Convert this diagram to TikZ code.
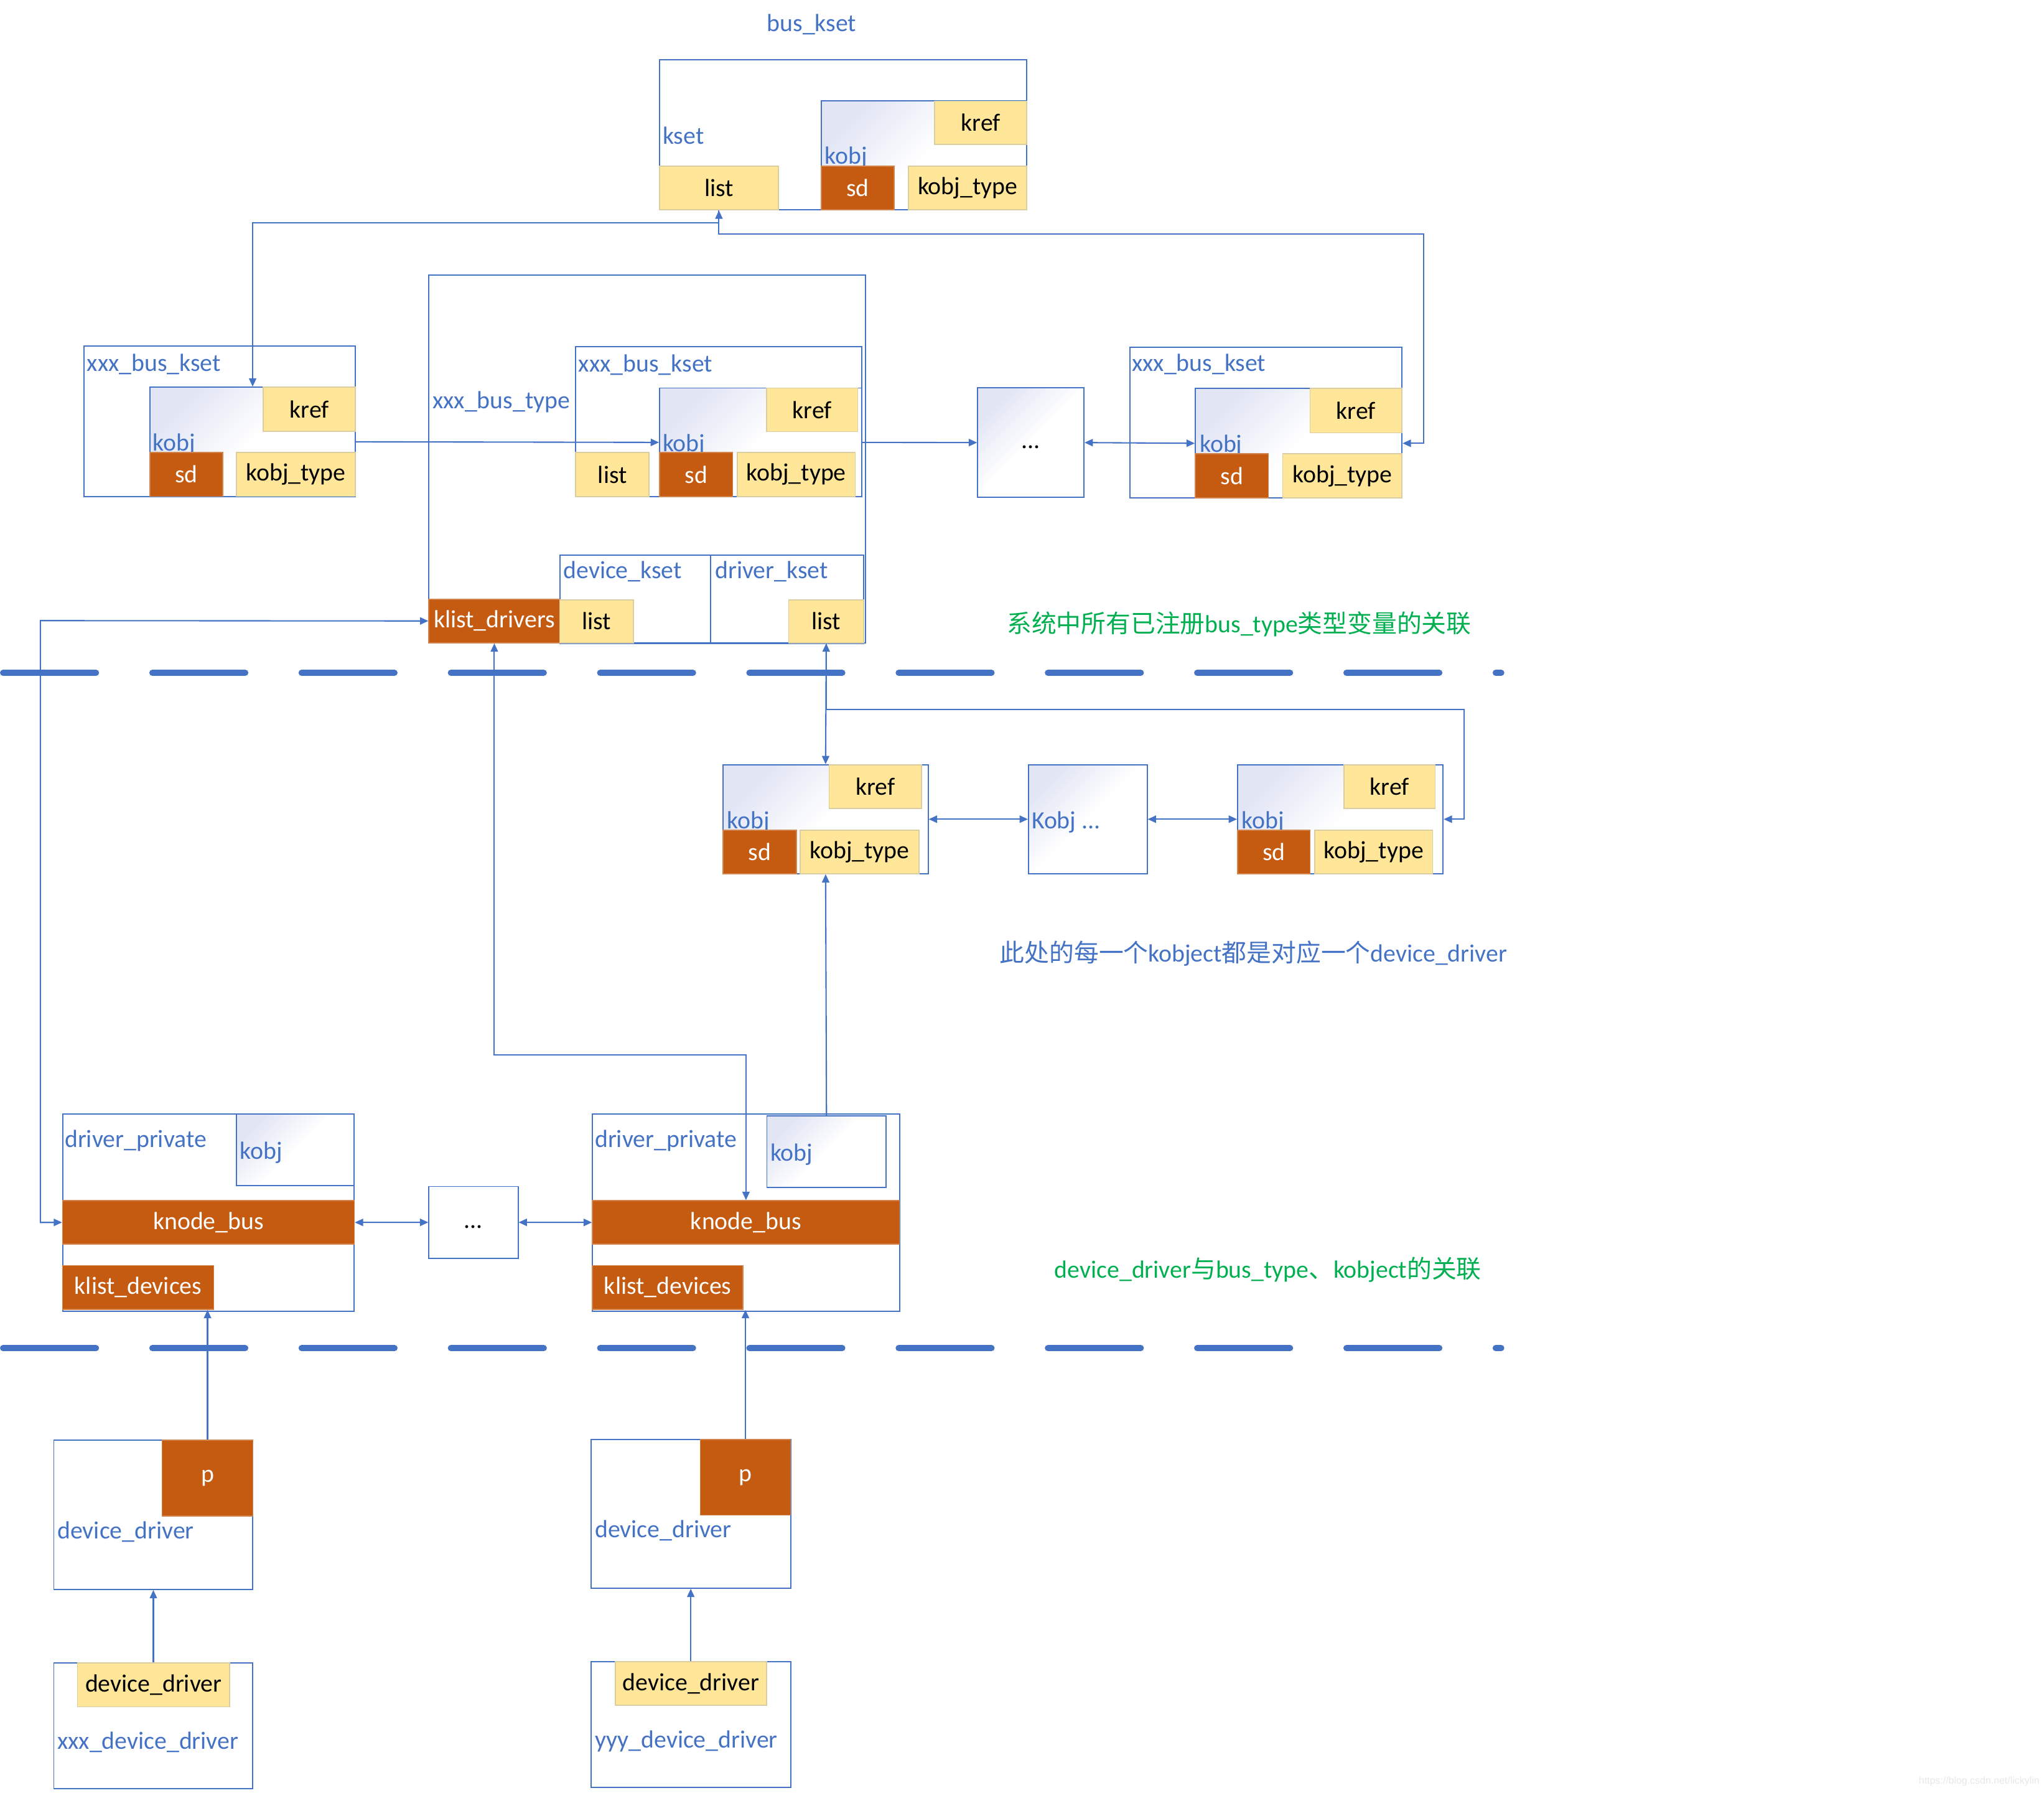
\documentclass[tikz,border=0pt]{standalone}
\usepackage{fontspec}
\setmainfont{Carlito}
\newfontfamily\cjk{Noto Sans CJK SC}
\newfontfamily\wmfont{Liberation Sans}
\usetikzlibrary{arrows.meta}

\definecolor{ofblue}{HTML}{4472C4}
\definecolor{oforange}{HTML}{C55A11}
\definecolor{ofyellow}{HTML}{FFE699}
\definecolor{ofgreen}{HTML}{00B050}
\definecolor{lav}{HTML}{E1E5F4}

\tikzset{
  every node/.style={font=\fontsize{9.5}{11}\selectfont},
  frame/.style={draw=ofblue, line width=0.45pt, inner sep=0pt},
  kobjbox/.style={frame, top color=lav, bottom color=white, middle color=white, shading angle=45},
  yel/.style={fill=ofyellow, draw=ofyellow!80!black!70, line width=0.4pt, inner sep=0pt, text=black},
  org/.style={fill=oforange, draw=oforange!75!white, line width=0.4pt, inner sep=0pt, text=white},
  lbl/.style={anchor=base west, inner sep=0pt, text=ofblue, yshift=-0.8pt},
  conn/.style={draw=ofblue, line width=0.5pt},
  sep/.style={draw=ofblue, line width=2.4pt, line cap=round, dash pattern=on 35.6pt off 21.65pt},
  >={Triangle[length=3.2pt,width=2.8pt]}
}

% a rectangular cell given by its corners: style, name, x1, y1, x2, y2, text
% (one unit is 0.5pt in both directions)
\newcommand\cell[7]{%
  \node[#1, anchor=center, minimum width={(#5-#3)*0.5pt}, minimum height={(#6-#4)*0.5pt}]
    (#2) at ({(#3+#5)/2},{(#4+#6)/2}) {#7};}

\begin{document}
\begin{tikzpicture}[x=0.5pt, y=-0.5pt]
\fill[white] (0,0) rectangle (1568,1375);
\useasboundingbox (0,0) rectangle (1568,1375);

% ---------- bus_kset ----------
\node[lbl] (tbus) at (588,22.3) {bus\_kset};
\cell{frame}{kset0}{506}{46}{787.6}{161}{}
\node[lbl] (tkset) at (508,109) {kset};
\cell{yel}{list0}{506}{127.4}{597}{161}{list}
\cell{kobjbox}{kobj0}{630}{77.5}{787.6}{161}{}
\node[lbl] (tkobj0) at (632.5,124) {kobj};
\cell{yel}{kref0}{717}{77.5}{787.6}{110.7}{kref}
\cell{org}{sd0}{630}{127.4}{686}{161}{sd}
\cell{yel}{kt0}{697}{127.4}{787.6}{161}{kobj\_type}

% ---------- left xxx_bus_kset ----------
\cell{frame}{ksetA}{64.4}{265.5}{272.6}{380.7}{}
\node[lbl] (tksetA) at (66.4,283) {xxx\_bus\_kset};
\cell{kobjbox}{kobjA}{115}{297}{272.6}{380.7}{}
\node[lbl] (tkobjA) at (117,344) {kobj};
\cell{yel}{krefA}{202}{297}{272.6}{330.8}{kref}
\cell{org}{sdA}{115}{347}{171}{380.7}{sd}
\cell{yel}{ktA}{181.4}{347}{272.6}{380.7}{kobj\_type}

% ---------- xxx_bus_type ----------
\cell{frame}{bustype}{329}{211}{664}{493}{}
\node[lbl] (tbustype) at (331.5,311.7) {xxx\_bus\_type};
\cell{frame}{ksetB}{441.6}{266}{661}{381}{}
\node[lbl] (tksetB) at (443.5,283.6) {xxx\_bus\_kset};
\cell{yel}{listB}{441.6}{347}{498}{381}{list}
\cell{kobjbox}{kobjB}{506}{297.6}{661}{381}{}
\node[lbl] (tkobjB) at (508,344.6) {kobj};
\cell{yel}{krefB}{588}{297.6}{658}{331}{kref}
\cell{org}{sdB}{506}{347}{562}{381}{sd}
\cell{yel}{ktB}{565.7}{347}{656}{381}{kobj\_type}
\cell{frame}{devkset}{429.4}{425.6}{545}{493.6}{}
\node[lbl] (tdevkset) at (431.8,442.3) {device\_kset};
\cell{frame}{drvkset}{545}{425.6}{662.6}{493.6}{}
\node[lbl] (tdrvkset) at (548.2,442.3) {driver\_kset};
\cell{org}{kld}{329}{459.5}{429.4}{493}{klist\_drivers}
\cell{yel}{devlist}{429.4}{460}{486}{493}{list}
\cell{yel}{drvlist}{605}{460}{662.6}{493}{list}

% ---------- further bus ksets ----------
\cell{kobjbox}{dots1}{750}{297.5}{831.5}{381.4}{\strut...}
\cell{frame}{ksetC}{867}{266.5}{1075.5}{382}{}
\node[lbl] (tksetC) at (868,283) {xxx\_bus\_kset};
\cell{kobjbox}{kobjC}{917}{298}{1075.5}{382}{}
\node[lbl] (tkobjC) at (920,345) {kobj};
\cell{yel}{krefC}{1005}{298}{1075.5}{332}{kref}
\cell{org}{sdC}{917}{348}{973}{382}{sd}
\cell{yel}{ktC}{984}{348}{1075.5}{382}{kobj\_type}

\node[lbl, text=ofgreen] (note1) at (772,483.6) {{\cjk 系统中所有已注册}bus\_type{\cjk 类型变量的关联}};

% ---------- separators ----------
\coordinate (s1a) at (2.4,516);
\coordinate (s1b) at (1151.6,516);
\draw[sep] (s1a) -- (s1b);
\coordinate (s2a) at (2.4,1034);
\coordinate (s2b) at (1151.6,1034);
\draw[sep] (s2a) -- (s2b);

% ---------- driver kobjects ----------
\cell{kobjbox}{kobjD}{554.7}{586.6}{712}{670}{}
\node[lbl] (tkobjD) at (557.5,634) {kobj};
\cell{yel}{krefD}{636}{586.6}{707}{620}{kref}
\cell{org}{sdD}{554.7}{636.8}{611}{670}{sd}
\cell{yel}{ktD}{613.8}{636.8}{705}{670}{kobj\_type}
\cell{kobjbox}{kdots}{789}{586.6}{880}{670}{}
\node[lbl] (tkdots) at (791,634) {Kobj ...};
\cell{kobjbox}{kobjF}{949.4}{586.6}{1107}{670}{}
\node[lbl] (tkobjF) at (952,634) {kobj};
\cell{yel}{krefF}{1031}{586.6}{1101}{620}{kref}
\cell{org}{sdF}{949.4}{636.8}{1005}{670}{sd}
\cell{yel}{ktF}{1008.6}{636.8}{1099}{670}{kobj\_type}

\node[lbl] (note2) at (766.6,736) {{\cjk 此处的每一个}kobject{\cjk 都是对应一个}device\_driver};

% ---------- driver_private ----------
\cell{frame}{dp1}{48}{854.5}{271.8}{1005.7}{}
\node[lbl] (tdp1) at (49.3,878.3) {driver\_private};
\cell{kobjbox}{dpk1}{181.4}{854.5}{271.8}{909.3}{}
\node[lbl] (tdpk1) at (183.6,887.5) {kobj};
\cell{org}{kb1}{48}{920.8}{271.8}{954.3}{knode\_bus}
\cell{org}{kdev1}{48}{970.7}{164}{1004.2}{klist\_devices}
\cell{frame}{bdots}{329}{910}{397.4}{965}{\strut...}
\cell{frame}{dp2}{454.5}{854.5}{690}{1005.7}{}
\node[lbl] (tdp2) at (456,878.3) {driver\_private};
\cell{kobjbox}{dpk2}{588.3}{856}{679.7}{910.7}{}
\node[lbl] (tdpk2) at (590.6,888.6) {kobj};
\cell{org}{kb2}{454.5}{920.8}{690}{954.3}{knode\_bus}
\cell{org}{kdev2}{454.5}{970.7}{570}{1004.2}{klist\_devices}

\node[lbl, text=ofgreen] (note3) at (808.6,978.5) {device\_driver{\cjk 与}bus\_type{\cjk 、}kobject{\cjk 的关联}};

% ---------- device_driver ----------
\cell{frame}{dd1}{41.3}{1104.6}{194}{1219}{}
\cell{org}{p1}{124.4}{1104.6}{194}{1162.7}{p}
\node[lbl] (tdd1) at (43.7,1178.4) {device\_driver};
\cell{frame}{xdd}{41.3}{1275.5}{194}{1372}{}
\cell{yel}{ddy1}{59.5}{1275.5}{176}{1309}{device\_driver}
\node[lbl] (txdd) at (43.7,1340) {xxx\_device\_driver};
\cell{frame}{dd2}{453.3}{1104}{606.5}{1218}{}
\cell{org}{p2}{537.2}{1104}{606.5}{1162}{p}
\node[lbl] (tdd2) at (456,1177.8) {device\_driver};
\cell{frame}{ydd}{453.3}{1274.5}{606.5}{1371}{}
\cell{yel}{ddy2}{472}{1274.5}{588}{1308}{device\_driver}
\node[lbl] (tydd) at (456,1339) {yyy\_device\_driver};

% ---------- connectors ----------
\coordinate (busleft) at (551.5,171);
\coordinate (busright) at (1092,179.5);
\draw[conn, ->] (list0.south) -- (busleft) -| (kobjA.north);
\draw[conn, <->] (list0.south) |- (busright) |- (kobjC.east);
\draw[conn, ->] (kobjA.east) -- (kobjB.west);
\draw[conn, ->] (kobjB.east) -- (dots1.west);
\draw[conn, <->] (dots1.east) -- (kobjC.west);

\coordinate (drvright) at (1123,544);
\draw[conn, <->] (drvlist.south) -- (kobjD.north);
\draw[conn, ->] (drvlist.south) |- (drvright) |- (kobjF.east);
\draw[conn, <->] (kobjD.east) -- (kdots.west);
\draw[conn, <->] (kdots.east) -- (kobjF.west);
\draw[conn, ->] (dpk2.north) -- (kobjD.south);

\coordinate (kldturn) at (379.2,809);
\draw[conn, <->] (kld.south) -- (kldturn) -| (kb2.north);
\coordinate (leftrail) at (31,476);
\draw[conn, <->] (kld.west) -- (leftrail) |- (kb1.west);
\draw[conn, <->] (kb1.east) -- (bdots.west);
\draw[conn, <->] (bdots.east) -- (kb2.west);

\draw[conn, ->] (p1.north) -- (p1.north |- kdev1.south);
\draw[conn, ->] (p2.north) -- (p2.north |- kdev2.south);
\draw[conn, ->] (xdd.north) -- (dd1.south);
\draw[conn, ->] (ydd.north) -- (dd2.south);

\node[anchor=base west, inner sep=0pt, text=black!9, font=\wmfont\fontsize{3.8}{4.5}\selectfont] (wm) at (1471.6,1368) {https://blog.csdn.net/lickylin};
\end{tikzpicture}
\end{document}
